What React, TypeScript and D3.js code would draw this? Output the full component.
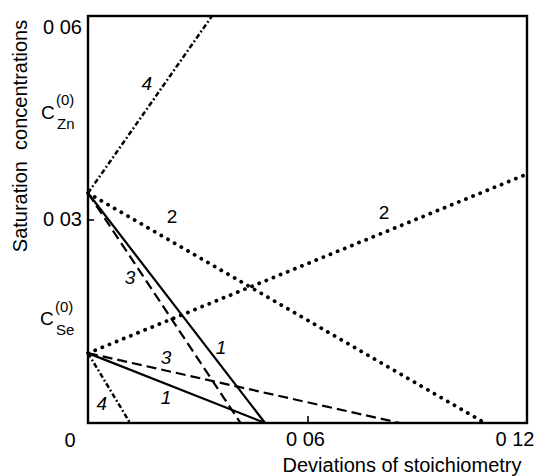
import React, { useEffect, useRef } from "react";
import * as d3 from "d3";

// starting saturation concentrations on the y axis
const cZn0 = 0.0339;
const cSe0 = 0.0103;

// curve numbers and where each curve ends
const curveNames = ["1", "2", "3", "4"];
const znEnds = [
  [0.0484, 0],
  [0.1085, 0],
  [0.0417, 0],
  [0.0339, 0.06],
];
const seEnds = [
  [0.0484, 0],
  [0.12, 0.0367],
  [0.0853, 0],
  [0.0115, 0],
];

// curve number labels (data units)
const znLabels = [
  [0.0364, 0.0112],
  [0.023, 0.0304],
  [0.0115, 0.0214],
  [0.0161, 0.0501],
];
const seLabels = [
  [0.0213, 0.0037],
  [0.0809, 0.031],
  [0.0213, 0.0097],
  [0.0038, 0.0029],
];

const xTicks = [0.06, 0.12];
const yTicks = [0.03, 0.06];

const W = 537;
const H = 476;
const font = "'Liberation Sans', Arial, sans-serif";

const dash = {
  "1": { dasharray: "none", width: 2.2, cap: "butt" },
  "2": { dasharray: "0.1 7.6", width: 3.8, cap: "round" },
  "3": { dasharray: "10 5", width: 2.2, cap: "butt" },
  "4": { dasharray: "5 2.5 1.8 2.5", width: 2.5, cap: "butt" },
};

const fmt = (d: number) => d3.format(".2f")(d).replace(".", " ");

export default function App() {
  const xAxisRef = useRef<SVGGElement>(null);
  const yAxisRef = useRef<SVGGElement>(null);

  const x = d3.scaleLinear().domain([0, 0.12]).range([88, 527]);
  const y = d3.scaleLinear().domain([0, 0.06]).range([423, 16]);
  const line = d3
    .line<number[]>()
    .x((d) => x(d[0]))
    .y((d) => y(d[1]));

  useEffect(() => {
    // small inward ticks only, the labels are drawn below
    d3.select(xAxisRef.current)
      .call(d3.axisBottom(x).tickValues([0.06]).tickSize(-7).tickFormat(() => ""))
      .call((g) => g.select(".domain").remove())
      .call((g) => g.selectAll("line").attr("stroke-width", 1.6));
    d3.select(yAxisRef.current)
      .call(d3.axisLeft(y).tickValues([0.03]).tickSize(-6).tickFormat(() => ""))
      .call((g) => g.select(".domain").remove())
      .call((g) => g.selectAll("line").attr("stroke-width", 1.6));
  }, []);

  return (
    <svg
      width={W}
      height={H}
      style={{ position: "absolute", left: 0, top: 0, background: "#fff" }}
      fontFamily={font}
    >
      <g ref={xAxisRef} transform={`translate(0,${y(0)})`} />
      <g ref={yAxisRef} transform={`translate(${x(0)},0)`} />

      {curveNames.map((name, i) => {
        const s = dash[name];
        return (
          <g key={name}>
            <path
              d={line([[0, cZn0], znEnds[i]]) || ""}
              fill="none"
              stroke="#000"
              strokeWidth={s.width}
              strokeDasharray={s.dasharray}
              strokeLinecap={s.cap}
            />
            <path
              d={line([[0, cSe0], seEnds[i]]) || ""}
              fill="none"
              stroke="#000"
              strokeWidth={s.width}
              strokeDasharray={s.dasharray}
              strokeLinecap={s.cap}
            />
          </g>
        );
      })}

      {/* frame */}
      <rect
        x={x(0)}
        y={y(0.06)}
        width={x(0.12) - x(0)}
        height={y(0) - y(0.06)}
        fill="none"
        stroke="#000"
        strokeWidth={2.4}
      />

      {curveNames.map((name, i) => (
        <g key={"l" + name} fontSize={19} textAnchor="middle" dominantBaseline="central"
          fontStyle={name === "2" ? "normal" : "italic"}>
          <text x={x(znLabels[i][0])} y={y(znLabels[i][1])}>{name}</text>
          <text x={x(seLabels[i][0])} y={y(seLabels[i][1])}>{name}</text>
        </g>
      ))}

      {/* tick labels */}
      <g fontSize={20} dominantBaseline="central">
        {yTicks.map((v) => (
          <text key={v} x={x(0) - 6} y={y(v) + (v === 0.06 ? 11 : -1)} textAnchor="end">
            {fmt(v)}
          </text>
        ))}
        {xTicks.map((v) => (
          <text key={v} x={x(v) - (v === 0.12 ? 12 : 2)} y={y(0) + 16} textAnchor="middle">
            {fmt(v)}
          </text>
        ))}
        <text x={x(0) - 18} y={y(0) + 17} textAnchor="middle">0</text>
      </g>

      {/* C labels */}
      <g>
        <text x={41} y={119} fontSize={19}>C</text>
        <text x={56} y={105} fontSize={15}>(0)</text>
        <text x={57} y={129} fontSize={15}>Zn</text>
      </g>
      <g>
        <text x={40} y={325} fontSize={19}>C</text>
        <text x={55} y={312} fontSize={15}>(0)</text>
        <text x={56} y={335} fontSize={15}>Se</text>
      </g>

      {/* axis titles */}
      <text x={402} y={465} fontSize={20} textAnchor="middle" dominantBaseline="central">
        Deviations of stoichiometry
      </text>
      <text
        transform={`translate(20,136) rotate(-90)`}
        fontSize={20}
        textAnchor="middle"
        dominantBaseline="central"
        style={{ whiteSpace: "pre" }}
      >
        Saturation  concentrations
      </text>
    </svg>
  );
}
